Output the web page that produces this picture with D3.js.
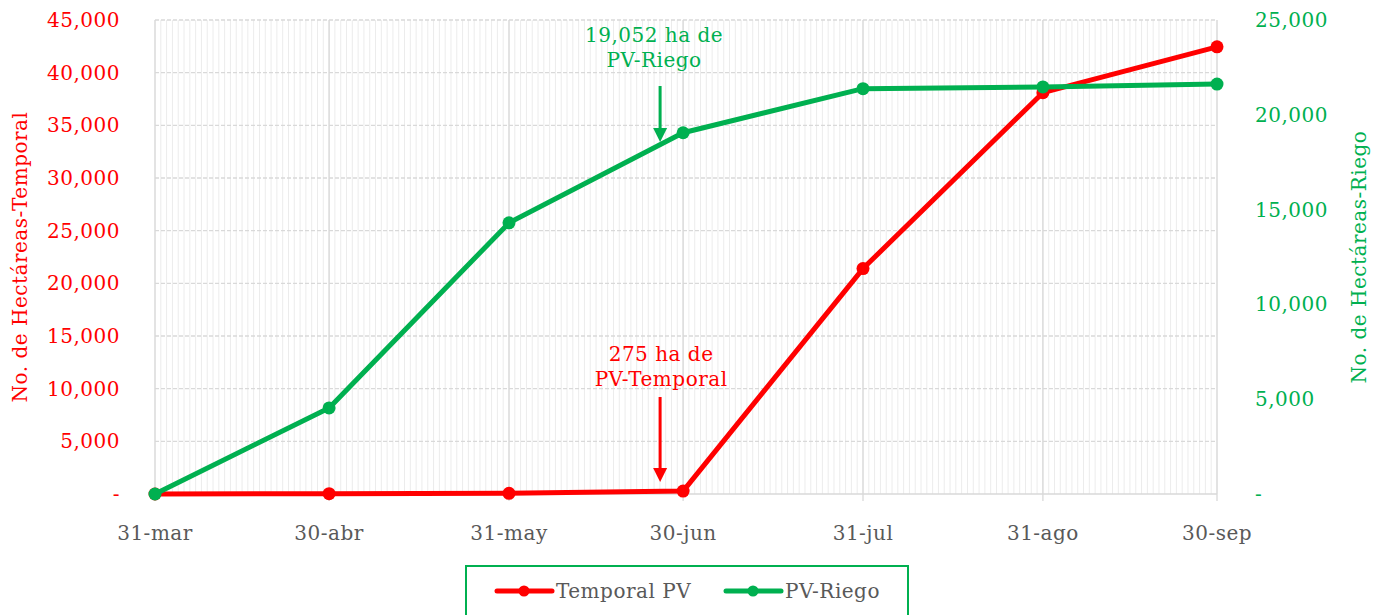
<!DOCTYPE html>
<html><head><meta charset="utf-8">
<script src="https://cdn.jsdelivr.net/npm/d3@7"></script>
<style>body{margin:0;background:#fff}svg{display:block;font-family:"DejaVu Serif",serif}text{letter-spacing:0.5px}</style>
</head><body><svg id="c" width="1377" height="615"></svg>
<script>
const dates = ["2023-03-31","2023-04-30","2023-05-31","2023-06-30","2023-07-31","2023-08-31","2023-09-30"];
const dateLabels = ["31-mar","30-abr","31-may","30-jun","31-jul","31-ago","30-sep"];
const temporal = [0, 30, 60, 275, 21400, 38100, 42450];
const riego = [0, 4540, 14300, 19052, 21380, 21470, 21620];
const leftTicks = [0,5000,10000,15000,20000,25000,30000,35000,40000,45000];
const rightTicks = [0,5000,10000,15000,20000,25000];
const seriesNames = ["Temporal PV","PV-Riego"];

const RED="#FF0000", GREEN="#00B050", GRAY="#595959";
const FS=20;
const svg=d3.select("#c");
const parse=d3.utcParse("%Y-%m-%d");
const D=dates.map(parse);
const x=d3.scaleUtc().domain([D[0],D[6]]).range([155,1217]);
const yL=d3.scaleLinear().domain([0,45000]).range([494,20]);
const yR=d3.scaleLinear().domain([0,25000]).range([494,20]);
const fmt=v=>v===0?"-":d3.format(",")(v);

// minor daily gridlines
const days=d3.utcDay.range(D[0],d3.utcDay.offset(D[6],1));
svg.append("g").selectAll("line").data(days).join("line")
  .attr("x1",d=>x(d)).attr("x2",d=>x(d)).attr("y1",20).attr("y2",494)
  .attr("stroke","#ececec").attr("stroke-width",1);
// horizontal dashed gridlines
svg.append("g").selectAll("line").data(leftTicks.slice(1)).join("line")
  .attr("x1",155).attr("x2",1217).attr("y1",d=>yL(d)).attr("y2",d=>yL(d))
  .attr("stroke","#d9d9d9").attr("stroke-width",1.3).attr("stroke-dasharray","4,2");
// major vertical gridlines with ticks
svg.append("g").selectAll("line").data(D).join("line")
  .attr("x1",d=>x(d)).attr("x2",d=>x(d)).attr("y1",20).attr("y2",501)
  .attr("stroke","#d9d9d9").attr("stroke-width",1.3);
// bottom axis line
svg.append("line").attr("x1",155).attr("x2",1217).attr("y1",494).attr("y2",494).attr("stroke","#d9d9d9").attr("stroke-width",1.3);

// x labels
svg.append("g").selectAll("text").data(D).join("text")
  .attr("x",d=>x(d)).attr("y",540).attr("text-anchor","middle")
  .attr("font-size",FS).attr("fill",GRAY).text((d,i)=>dateLabels[i]);
// left ticks
svg.append("g").selectAll("text").data(leftTicks).join("text")
  .attr("x",120).attr("y",d=>yL(d)+7).attr("text-anchor","end")
  .attr("font-size",FS).attr("fill",RED).text(fmt);
// right ticks
svg.append("g").selectAll("text").data(rightTicks).join("text")
  .attr("x",1255).attr("y",d=>yR(d)+7).attr("text-anchor","start")
  .attr("font-size",FS).attr("fill",GREEN).text(fmt);

// axis titles
svg.append("text").attr("transform","translate(27,257) rotate(-90)").attr("text-anchor","middle")
  .attr("font-size",FS).attr("fill",RED).text("No. de Hectáreas-Temporal");
svg.append("text").attr("transform","translate(1366,257) rotate(-90)").attr("text-anchor","middle")
  .attr("font-size",FS).attr("fill",GREEN).text("No. de Hectáreas-Riego");

// lines
const lineL=d3.line().x((d,i)=>x(D[i])).y(d=>yL(d));
const lineR=d3.line().x((d,i)=>x(D[i])).y(d=>yR(d));
svg.append("path").attr("d",lineL(temporal)).attr("fill","none").attr("stroke",RED).attr("stroke-width",5).attr("stroke-linejoin","round");
svg.append("g").selectAll("circle").data(temporal).join("circle")
  .attr("cx",(d,i)=>x(D[i])).attr("cy",d=>yL(d)).attr("r",6.5).attr("fill",RED);
svg.append("path").attr("d",lineR(riego)).attr("fill","none").attr("stroke",GREEN).attr("stroke-width",5).attr("stroke-linejoin","round");
svg.append("g").selectAll("circle").data(riego).join("circle")
  .attr("cx",(d,i)=>x(D[i])).attr("cy",d=>yR(d)).attr("r",6.5).attr("fill",GREEN);

// annotations
function arrow(xp,y1,y2,col){
  svg.append("line").attr("x1",xp).attr("x2",xp).attr("y1",y1).attr("y2",y2-12).attr("stroke",col).attr("stroke-width",3);
  svg.append("path").attr("d",`M${xp-7},${y2-14} L${xp+7},${y2-14} L${xp},${y2} Z`).attr("fill",col);
}
const ax=x(D[3])-23;
svg.append("text").attr("x",ax-6).attr("y",42).attr("text-anchor","middle").attr("font-size",FS).attr("fill",GREEN).text("19,052 ha de");
svg.append("text").attr("x",ax-6).attr("y",67).attr("text-anchor","middle").attr("font-size",FS).attr("fill",GREEN).text("PV-Riego");
arrow(ax,86,142,GREEN);
svg.append("text").attr("x",ax+1).attr("y",361).attr("text-anchor","middle").attr("font-size",FS).attr("fill",RED).text("275 ha de");
svg.append("text").attr("x",ax+1).attr("y",386).attr("text-anchor","middle").attr("font-size",FS).attr("fill",RED).text("PV-Temporal");
arrow(ax,397,482,RED);

// legend
svg.append("rect").attr("x",466).attr("y",566).attr("width",442).attr("height",60).attr("fill","#fff").attr("stroke",GREEN).attr("stroke-width",2);
const leg=[{n:seriesNames[0],c:RED,x0:497},{n:seriesNames[1],c:GREEN,x0:726}];
leg.forEach(l=>{
  svg.append("line").attr("x1",l.x0).attr("x2",l.x0+55).attr("y1",591).attr("y2",591).attr("stroke",l.c).attr("stroke-width",5).attr("stroke-linecap","round");
  svg.append("circle").attr("cx",l.x0+27).attr("cy",591).attr("r",5.5).attr("fill",l.c);
  svg.append("text").attr("x",l.x0+59).attr("y",598).attr("font-size",FS).attr("fill",GRAY).text(l.n);
});
</script></body></html>
